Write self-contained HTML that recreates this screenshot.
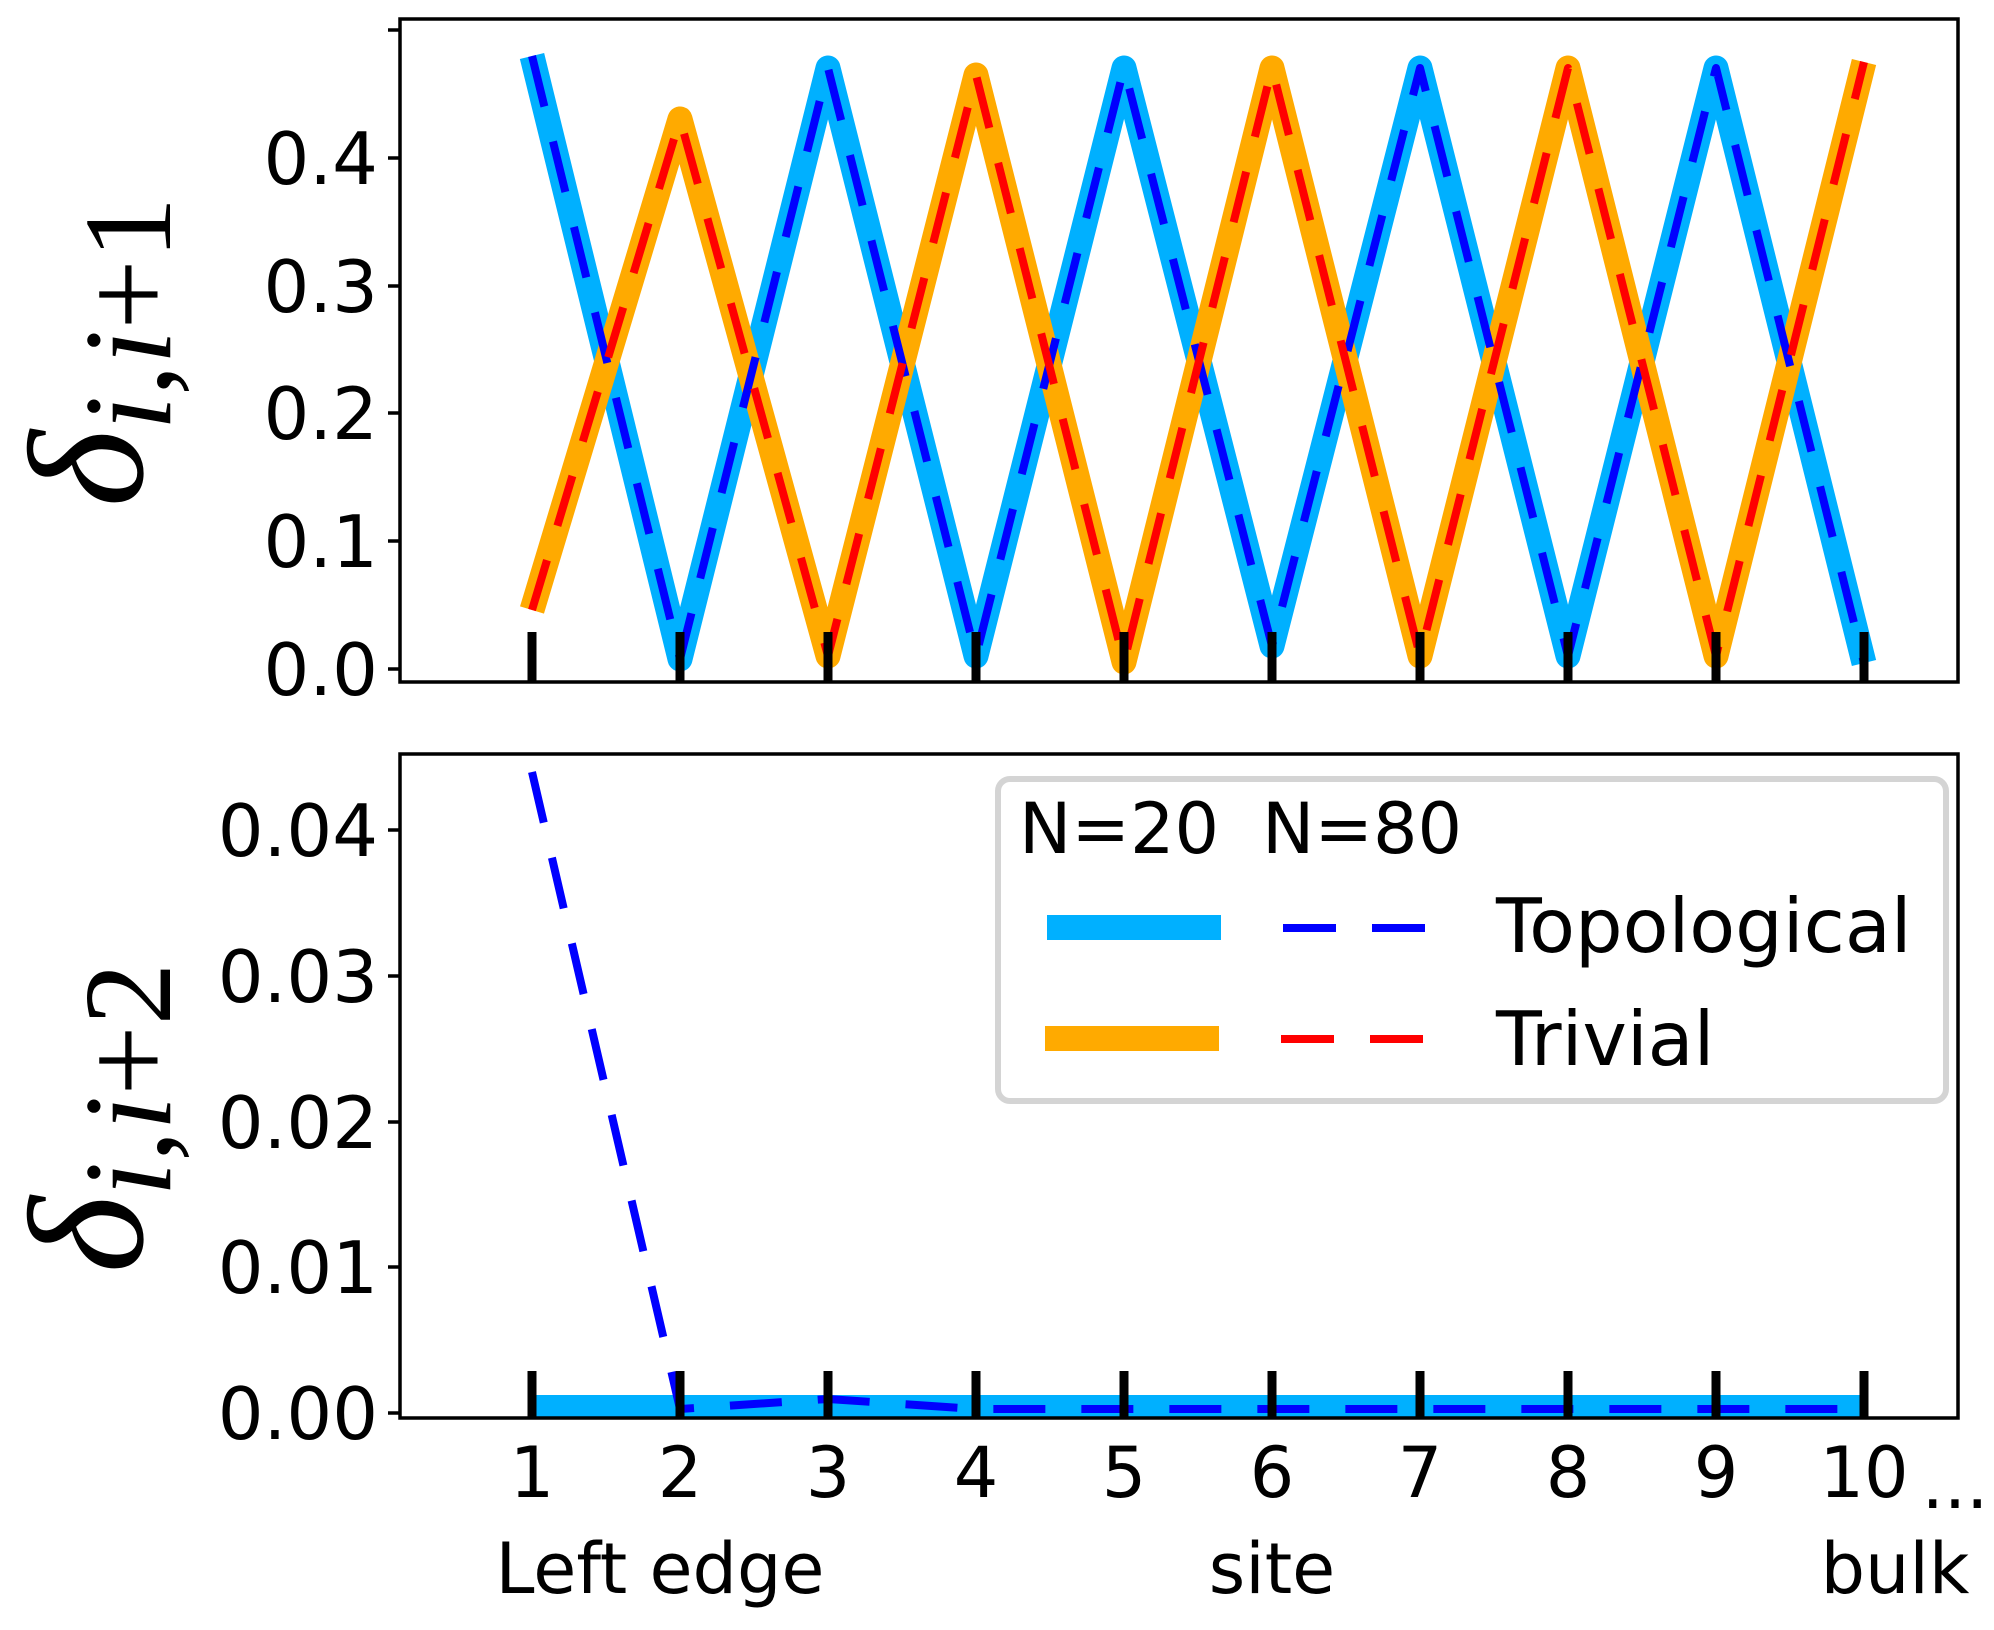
<!DOCTYPE html>
<html><head><meta charset="utf-8"><style>
html,body{margin:0;padding:0;background:#fff;}
svg{display:block;}
text{font-family:"DejaVu Sans","Liberation Sans",sans-serif;fill:#000;}
.m{font-family:"Liberation Serif","DejaVu Serif",serif;}
</style></head><body>
<svg width="1994" height="1630" viewBox="0 0 1994 1630" xmlns="http://www.w3.org/2000/svg">
<g fill="none" stroke-linejoin="round">
<polyline stroke="#00b0ff" stroke-width="25" points="532,56 680,659 828,68 976,656 1124,68 1272,646 1420,68 1568,656 1716,68 1864,663"/>
<polyline stroke="#ffaa00" stroke-width="25" points="532,610 680,119 828,656 976,75 1124,662 1272,68 1420,656 1568,68 1716,656 1864,62"/>
<polyline stroke="#0000ff" stroke-width="8" stroke-dasharray="52 36" points="532,56 680,659 828,68 976,656 1124,68 1272,646 1420,68 1568,656 1716,68 1864,663"/>
<polyline stroke="#ff0000" stroke-width="8" stroke-dasharray="52 36" points="532,610 680,119 828,656 976,75 1124,662 1272,68 1420,656 1568,68 1716,656 1864,62"/>
</g>
<g stroke="#000" stroke-width="9">
<line x1="532" y1="632" x2="532" y2="682"/><line x1="680" y1="632" x2="680" y2="682"/><line x1="828" y1="632" x2="828" y2="682"/><line x1="976" y1="632" x2="976" y2="682"/><line x1="1124" y1="632" x2="1124" y2="682"/><line x1="1272" y1="632" x2="1272" y2="682"/><line x1="1420" y1="632" x2="1420" y2="682"/><line x1="1568" y1="632" x2="1568" y2="682"/><line x1="1716" y1="632" x2="1716" y2="682"/><line x1="1864" y1="632" x2="1864" y2="682"/>
</g>
<rect x="400" y="19" width="1558" height="663" fill="none" stroke="#000" stroke-width="3.5"/>
<g stroke="#000" stroke-width="3.5">
<line x1="388" y1="669" x2="400" y2="669"/><line x1="388" y1="541" x2="400" y2="541"/><line x1="388" y1="413" x2="400" y2="413"/><line x1="388" y1="286" x2="400" y2="286"/><line x1="388" y1="158" x2="400" y2="158"/><line x1="388" y1="30" x2="400" y2="30"/>
</g>
<g font-size="72" text-anchor="end">
<text x="378" y="695">0.0</text><text x="378" y="567">0.1</text><text x="378" y="439">0.2</text><text x="378" y="312">0.3</text><text x="378" y="184">0.4</text>
</g>
<text class="m" transform="translate(142,352) rotate(-90)" text-anchor="middle" font-size="165"><tspan font-style="italic">δ</tspan><tspan font-size="125" dy="28"><tspan font-style="italic">i</tspan>,<tspan font-style="italic">i</tspan>+1</tspan></text>

<line x1="532" y1="1406" x2="1864" y2="1406" stroke="#00b0ff" stroke-width="22"/>
<polyline fill="none" stroke="#0000ff" stroke-width="8" stroke-dasharray="52 36" points="532,772 680,1409 828,1399 976,1409 1864,1409"/>
<g stroke="#000" stroke-width="9">
<line x1="532" y1="1371" x2="532" y2="1418"/><line x1="680" y1="1371" x2="680" y2="1418"/><line x1="828" y1="1371" x2="828" y2="1418"/><line x1="976" y1="1371" x2="976" y2="1418"/><line x1="1124" y1="1371" x2="1124" y2="1418"/><line x1="1272" y1="1371" x2="1272" y2="1418"/><line x1="1420" y1="1371" x2="1420" y2="1418"/><line x1="1568" y1="1371" x2="1568" y2="1418"/><line x1="1716" y1="1371" x2="1716" y2="1418"/><line x1="1864" y1="1371" x2="1864" y2="1418"/>
</g>
<rect x="400" y="754" width="1558" height="664" fill="none" stroke="#000" stroke-width="3.5"/>
<g stroke="#000" stroke-width="3.5">
<line x1="388" y1="1413" x2="400" y2="1413"/><line x1="388" y1="1267" x2="400" y2="1267"/><line x1="388" y1="1122" x2="400" y2="1122"/><line x1="388" y1="976" x2="400" y2="976"/><line x1="388" y1="830" x2="400" y2="830"/>
</g>
<g font-size="72" text-anchor="end">
<text x="378" y="1439">0.00</text><text x="378" y="1293">0.01</text><text x="378" y="1148">0.02</text><text x="378" y="1002">0.03</text><text x="378" y="856">0.04</text>
</g>
<text class="m" transform="translate(142,1118) rotate(-90)" text-anchor="middle" font-size="165"><tspan font-style="italic">δ</tspan><tspan font-size="125" dy="28"><tspan font-style="italic">i</tspan>,<tspan font-style="italic">i</tspan>+2</tspan></text>

<rect x="998" y="779" width="948" height="322" rx="12" fill="#fff" stroke="#d4d4d4" stroke-width="6"/>
<text x="1019" y="853" font-size="70">N=20</text><text x="1262" y="853" font-size="70">N=80</text>
<rect x="1047" y="915" width="174" height="25" fill="#00b0ff"/>
<line x1="1283" y1="928" x2="1425" y2="928" stroke="#0000ff" stroke-width="8" stroke-dasharray="53 36"/>
<text x="1496" y="952" font-size="75">Topological</text>
<rect x="1045" y="1026" width="174" height="25" fill="#ffaa00"/>
<line x1="1281" y1="1039" x2="1423" y2="1039" stroke="#ff0000" stroke-width="8" stroke-dasharray="53 36"/>
<text x="1496" y="1065" font-size="75">Trivial</text>

<g font-size="70" text-anchor="middle">
<text x="532" y="1497">1</text><text x="680" y="1497">2</text><text x="828" y="1497">3</text><text x="976" y="1497">4</text><text x="1124" y="1497">5</text><text x="1272" y="1497">6</text><text x="1420" y="1497">7</text><text x="1568" y="1497">8</text><text x="1716" y="1497">9</text><text x="1864" y="1497">10</text>
<text x="1955" y="1508">...</text>
<text x="660" y="1593">Left edge</text>
<text x="1272" y="1593">site</text>
<text x="1895" y="1593">bulk</text>
</g>
</svg>
</body></html>
